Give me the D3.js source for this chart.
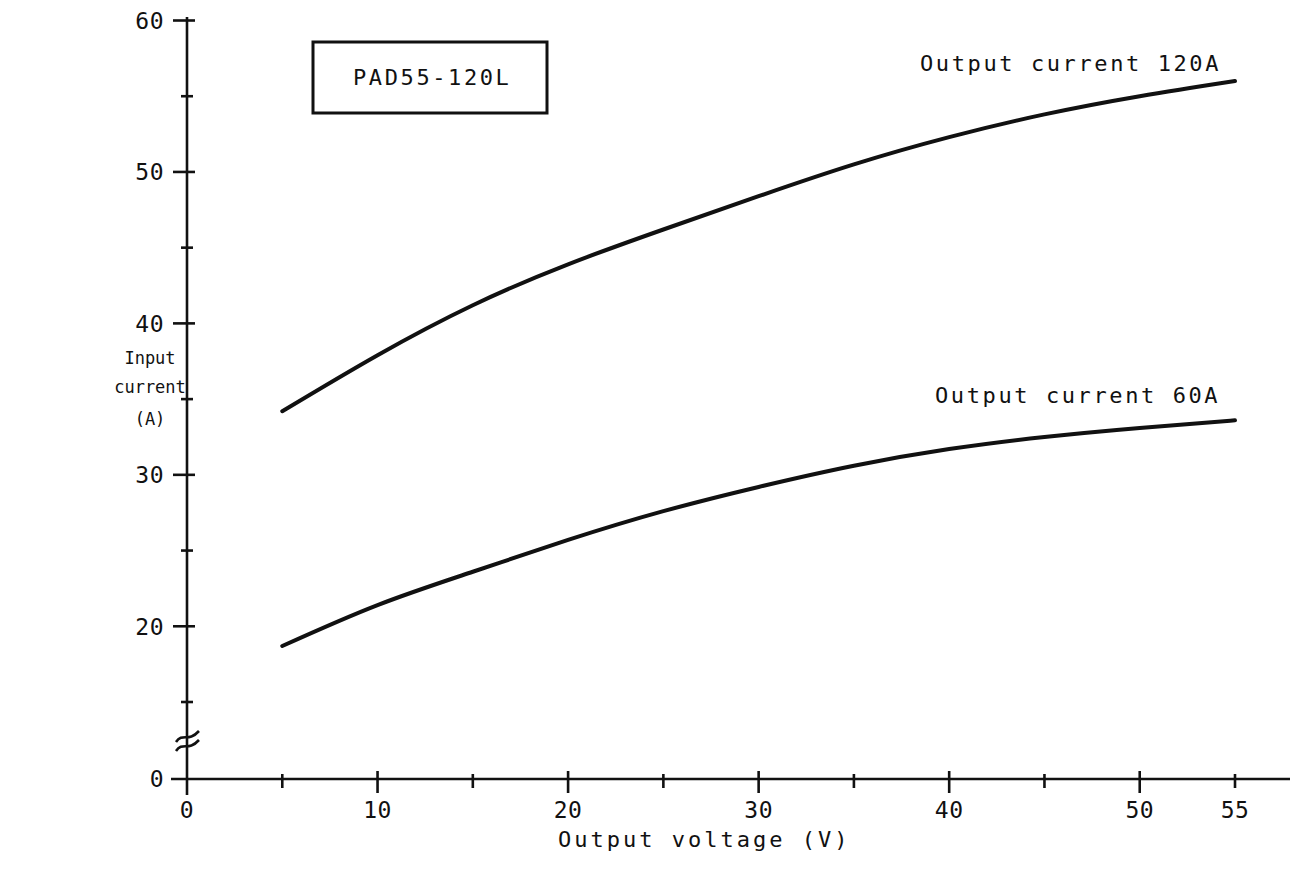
<!DOCTYPE html>
<html>
<head>
<meta charset="utf-8">
<script src="https://cdn.jsdelivr.net/npm/d3@7"></script>
<style>
  body { margin: 0; background: #fff; }
  text { font-family: "DejaVu Sans Mono", monospace; fill: #111; }
</style>
</head>
<body>
<div id="chart"></div>
<script>
// values
var voltage = [5, 10, 15, 20, 25, 30, 35, 40, 45, 50, 55];
var current120 = [34.2, 37.9, 41.2, 43.9, 46.2, 48.4, 50.5, 52.3, 53.8, 55.0, 56.0];
var current60 = [18.7, 21.4, 23.6, 25.7, 27.6, 29.2, 30.6, 31.7, 32.5, 33.1, 33.6];
var xTicks = [0, 5, 10, 15, 20, 25, 30, 35, 40, 45, 50, 55];
var xLabels = [0, 10, 20, 30, 40, 50, 55];
var yTicks = [15, 20, 25, 30, 35, 40, 45, 50, 55, 60];
var yLabels = [0, 20, 30, 40, 50, 60];
var yTitle = ["Input", "current", "(A)"];

var width = 1303, height = 871;

var svg = d3.select("#chart")
  .append("svg")
  .attr("width", width)
  .attr("height", height);

var x = d3.scaleLinear().domain([0, 55]).range([187, 1235]);
// broken axis: 0..15 squeezed below the break
var y = d3.scaleLinear().domain([0, 15, 60]).range([779, 702, 20.5]);

// axis lines
svg.append("line")
  .attr("x1", x(0)).attr("x2", x(0))
  .attr("y1", 17).attr("y2", 795)
  .style("stroke", "#111").style("stroke-width", 2.6);
svg.append("line")
  .attr("x1", 171).attr("x2", 1290)
  .attr("y1", y(0)).attr("y2", y(0))
  .style("stroke", "#111").style("stroke-width", 2.6);

// y ticks
svg.selectAll(".ytick")
  .data(yTicks)
  .enter()
  .append("line")
    .attr("x1", function(d) { return yLabels.indexOf(d) >= 0 ? x(0) - 14 : x(0) - 6; })
    .attr("x2", function(d) { return yLabels.indexOf(d) >= 0 ? x(0) + 8 : x(0) + 6; })
    .attr("y1", function(d) { return y(d); })
    .attr("y2", function(d) { return y(d); })
    .style("stroke", "#111").style("stroke-width", 2.6);

svg.selectAll(".ylab")
  .data(yLabels)
  .enter()
  .append("text")
    .attr("x", 164)
    .attr("y", function(d) { return y(d); })
    .attr("dy", "0.36em")
    .attr("text-anchor", "end")
    .style("font-size", "23px")
    .style("letter-spacing", "0.5px")
    .text(function(d) { return d; });

// x ticks
svg.selectAll(".xtick")
  .data(xTicks.slice(1))
  .enter()
  .append("line")
    .attr("x1", function(d) { return x(d); })
    .attr("x2", function(d) { return x(d); })
    .attr("y1", function(d) { return d % 10 == 0 ? y(0) - 8 : y(0) - 5; })
    .attr("y2", function(d) { return d % 10 == 0 ? y(0) + 14 : y(0) + 9; })
    .style("stroke", "#111").style("stroke-width", 2.6);

svg.selectAll(".xlab")
  .data(xLabels)
  .enter()
  .append("text")
    .attr("x", function(d) { return x(d); })
    .attr("y", 818)
    .attr("text-anchor", "middle")
    .style("font-size", "23px")
    .style("letter-spacing", "0.5px")
    .text(function(d) { return d; });

// break mark on the y axis
[737, 746].forEach(function(cy) {
  svg.append("path")
    .attr("d", "M176," + (cy + 5) + " C183," + (cy - 5) + " 188," + (cy + 6) + " 199," + (cy - 6))
    .style("fill", "none").style("stroke", "#111").style("stroke-width", 2.6);
});

// curves
var line = d3.line()
  .x(function(d) { return x(d[0]); })
  .y(function(d) { return y(d[1]); })
  .curve(d3.curveNatural);

[current120, current60].forEach(function(vals) {
  svg.append("path")
    .datum(d3.zip(voltage, vals))
    .attr("d", line)
    .style("fill", "none")
    .style("stroke", "#111")
    .style("stroke-width", 4)
    .style("stroke-linecap", "round");
});

// curve labels
svg.append("text")
  .attr("x", 920).attr("y", 71)
  .style("font-size", "22px").style("letter-spacing", "2.6px")
  .text("Output current 120A");
svg.append("text")
  .attr("x", 935).attr("y", 403)
  .style("font-size", "22px").style("letter-spacing", "2.6px")
  .text("Output current 60A");

// model box
svg.append("rect")
  .attr("x", 313).attr("y", 42)
  .attr("width", 234).attr("height", 71)
  .style("fill", "none").style("stroke", "#111").style("stroke-width", 3);
svg.append("text")
  .attr("x", 353).attr("y", 85)
  .style("font-size", "22px").style("letter-spacing", "2.6px")
  .text("PAD55-120L");

// axis titles
svg.append("text")
  .attr("x", 558).attr("y", 847)
  .style("font-size", "22px").style("letter-spacing", "3px")
  .text("Output voltage (V)");

svg.selectAll(".ytitle")
  .data(yTitle)
  .enter()
  .append("text")
    .attr("x", 150)
    .attr("y", function(d, i) { return [364, 393, 425][i]; })
    .attr("text-anchor", "middle")
    .style("font-size", "17px")
    .text(function(d) { return d; });
</script>
</body>
</html>
